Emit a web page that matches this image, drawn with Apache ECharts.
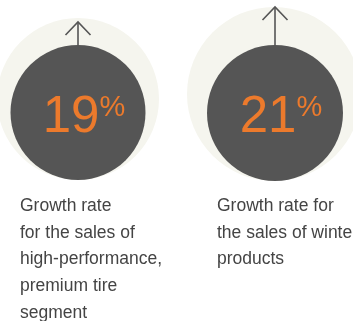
<!DOCTYPE html>
<html>
<head>
<meta charset="utf-8">
<script src="https://cdn.jsdelivr.net/npm/echarts@6/dist/echarts.min.js"></script>
<style>
  html, body { margin: 0; padding: 0; background: #ffffff; }
  #chart { width: 353px; height: 321px; }
</style>
</head>
<body>
<div id="chart"></div>
<script>
const values = [19, 21];
const captions = [
  "Growth rate\nfor the sales of\nhigh-performance,\npremium tire\nsegment",
  "Growth rate for\nthe sales of winter\nproducts",
];

// layout per item (pixels)
const centers = [[78, 112.5], [275, 113]];
const haloCenters = [[78, 99], [274, 94]];
const haloRadius = [81, 87];
const discRadius = [67.5, 68];
const arrowTop = [22, 7];
const captionX = [20, 217];

const chart = echarts.init(document.getElementById("chart"), null, { renderer: "canvas" });

const series = [];
values.forEach((v, i) => {
  series.push({
    type: "pie",
    silent: true,
    center: haloCenters[i],
    radius: [0, haloRadius[i]],
    label: { show: false },
    itemStyle: { color: "#f5f5ee" },
    data: [{ value: v }],
  });
  series.push({
    type: "pie",
    silent: true,
    center: centers[i],
    radius: [0, discRadius[i]],
    itemStyle: { color: "#555555" },
    label: {
      show: true,
      position: "center",
      formatter: () => `{n|${v}}{p|%}`,
      rich: {
        n: { fontFamily: "Liberation Sans", fontSize: 51, color: "#ec7a2c", padding: [10, 0, 0, 12] },
        p: { fontFamily: "Liberation Sans", fontSize: 29, color: "#ec7a2c", verticalAlign: "top", padding: [11, 0, 0, 0] },
      },
    },
    data: [{ value: v }],
  });
});

const graphic = [];
values.forEach((v, i) => {
  const x = centers[i][0];
  const yTop = arrowTop[i];
  const yBase = centers[i][1] - discRadius[i];
  graphic.push({
    type: "polyline",
    silent: true,
    z: 100,
    shape: { points: [[x, yTop], [x, yBase]] },
    style: { stroke: "#555555", lineWidth: 1.6, fill: null },
  });
  graphic.push({
    type: "polyline",
    silent: true,
    z: 100,
    shape: { points: [[x - 12.5, yTop + 13], [x, yTop], [x + 12.5, yTop + 13]] },
    style: { stroke: "#555555", lineWidth: 1.6, fill: null },
  });
  graphic.push({
    type: "text",
    silent: true,
    z: 100,
    left: captionX[i],
    top: 193,
    style: {
      text: captions[i],
      font: "17.5px 'Liberation Sans'",
      fill: "#444444",
      lineHeight: 26.6,
    },
  });
});

chart.setOption({
  animation: false,
  backgroundColor: "#ffffff",
  series,
  graphic,
});
</script>
</body>
</html>
